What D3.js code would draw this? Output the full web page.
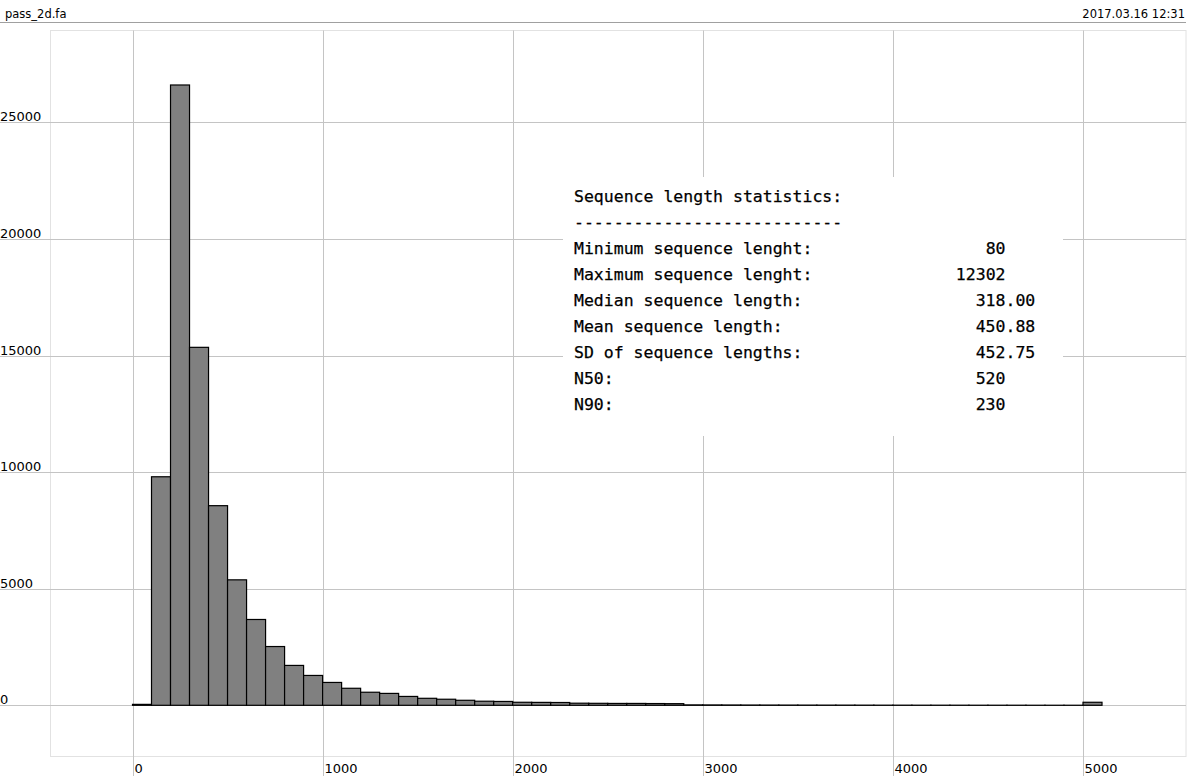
<!DOCTYPE html>
<html>
<head>
<meta charset="utf-8">
<script src="https://cdn.jsdelivr.net/npm/d3@7"></script>
<style>
  html, body { margin: 0; padding: 0; background: #fff; }
  svg { display: block; }
</style>
</head>
<body>
<svg id="chart" width="1191" height="776"></svg>
<script>
// ---- data ----
const fileName = "pass_2d.fa";
const dateStamp = "2017.03.16 12:31";
const binWidth = 100;
const binStarts = d3.range(0, 5100, 100);
const counts = [
  40, 9800, 26600, 15350, 8560, 5380, 3680, 2520, 1710, 1280,
  980, 730, 560, 510, 380, 300, 260, 215, 175, 165,
  130, 125, 120, 90, 85, 80, 80, 75, 70, 18,
  16, 14, 12, 11, 10, 9, 8, 8, 7, 6,
  6, 5, 5, 5, 4, 4, 4, 3, 3, 3,
  130
];
const xTicks = [0, 1000, 2000, 3000, 4000, 5000];
const yTicks = [0, 5000, 10000, 15000, 20000, 25000];
const statsTitle = "Sequence length statistics:";
const statsRule = "---------------------------";
const statLabels = [
  "Minimum sequence lenght:",
  "Maximum sequence lenght:",
  "Median sequence length:",
  "Mean sequence length:",
  "SD of sequence lengths:",
  "N50:",
  "N90:"
];
const statValues = ["80", "12302", "318.00", "450.88", "452.75", "520", "230"];

// ---- drawing ----
const svg = d3.select("#chart");
const x = d3.scaleLinear().domain([0, 5000]).range([132.5, 1083]);
const y = d3.scaleLinear().domain([0, 25000]).range([705.3, 122.3]);

const frame = { left: 50.5, top: 30.5, right: 1186, bottom: 756.5 };
const sans = "DejaVu Sans, Verdana, sans-serif";

// header
svg.append("line").attr("x1", 0).attr("x2", 1186).attr("y1", 22.5).attr("y2", 22.5)
  .attr("stroke", "#a0a0a0").attr("stroke-width", 1);
svg.append("text").attr("x", 5).attr("y", 18).text(fileName)
  .attr("font-family", sans).attr("font-size", 11.5).attr("fill", "#000");
svg.append("text").attr("x", 1185).attr("y", 18).attr("text-anchor", "end").text(dateStamp)
  .attr("font-family", sans).attr("font-size", 11.5).attr("fill", "#000");

// frame
svg.append("rect")
  .attr("x", frame.left).attr("y", frame.top)
  .attr("width", frame.right - frame.left).attr("height", frame.bottom - frame.top)
  .attr("fill", "none").attr("stroke", "#e2e2e2").attr("stroke-width", 1);

// grid
svg.append("g").selectAll("line").data(xTicks).join("line")
  .attr("x1", d => Math.round(x(d)) + 0.5).attr("x2", d => Math.round(x(d)) + 0.5)
  .attr("y1", frame.top).attr("y2", 776)
  .attr("stroke", "#c4c4c4").attr("stroke-width", 1);
svg.append("g").selectAll("line").data(yTicks).join("line")
  .attr("x1", 0).attr("x2", frame.right)
  .attr("y1", d => Math.round(y(d)) + 0.5).attr("y2", d => Math.round(y(d)) + 0.5)
  .attr("stroke", "#c4c4c4").attr("stroke-width", 1);

// tick labels
svg.append("g").selectAll("text").data(yTicks).join("text")
  .attr("x", 0).attr("y", d => Math.round(y(d)) - 1)
  .attr("font-family", sans).attr("font-size", 13).attr("fill", "#000")
  .text(d => d3.format("d")(d));
svg.append("g").selectAll("text").data(xTicks).join("text")
  .attr("x", d => Math.round(x(d)) + 1.5).attr("y", 772.5)
  .attr("font-family", sans).attr("font-size", 13).attr("fill", "#000")
  .text(d => d3.format("d")(d));

// bars
const bins = binStarts.map((s, i) => ({ x0: s, x1: s + binWidth, n: counts[i] }));
svg.append("g").selectAll("rect").data(bins).join("rect")
  .attr("x", d => x(d.x0)).attr("width", d => x(d.x1) - x(d.x0))
  .attr("y", d => y(d.n)).attr("height", d => y(0) - y(d.n))
  .attr("fill", "#808080").attr("stroke", "#000").attr("stroke-width", 1.2);

// stats box
svg.append("rect").attr("x", 563).attr("y", 177).attr("width", 500).attr("height", 259).attr("fill", "#fff");
const mono = "DejaVu Sans Mono, Menlo, monospace";
const fs = 16.5;
const cw = fs * 0.602;
const base0 = 201.5, step = 26.1;
const g = svg.append("g").attr("font-family", mono).attr("font-size", fs)
  .attr("fill", "#000").attr("stroke", "#000").attr("stroke-width", 0.25);
g.append("text").attr("x", 574).attr("y", base0).text(statsTitle);
g.append("text").attr("x", 574).attr("y", base0 + step).text(statsRule);
g.selectAll("text.lab").data(statLabels).join("text").attr("class", "lab")
  .attr("x", 574).attr("y", (d, i) => base0 + (i + 2) * step).text(d => d);
g.selectAll("text.val").data(statValues).join("text").attr("class", "val")
  .attr("text-anchor", "end")
  .attr("x", d => 1005.5 + (d.includes(".") ? (d.length - d.indexOf(".")) * cw : 0))
  .attr("y", (d, i) => base0 + (i + 2) * step).text(d => d);
</script>
</body>
</html>
